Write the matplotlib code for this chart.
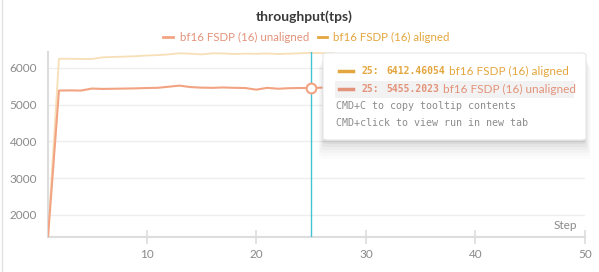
import matplotlib.pyplot as plt
from matplotlib.lines import Line2D
from matplotlib.patches import FancyBboxPatch

steps = list(range(1, 28))
aligned = [1450, 6250, 6250, 6245, 6245, 6290, 6300, 6310, 6320, 6340, 6350, 6370, 6400, 6390,
           6370, 6400, 6395, 6380, 6390, 6385, 6395, 6380, 6390, 6400, 6412.46054, 6405, 6400]
unaligned = [1400, 5385, 5390, 5385, 5440, 5430, 5435, 5440, 5445, 5455, 5460, 5490, 5520, 5480,
             5465, 5460, 5470, 5460, 5455, 5410, 5460, 5435, 5450, 5455, 5455.2023, 5465, 5460]
hover_step = 25
yticks = [2000, 3000, 4000, 5000, 6000]
xticks = [10, 20, 30, 40, 50]

W, H = 599, 272
SANS = ['Lato', 'DejaVu Sans']
MONO = ['DejaVu Sans Mono']
c_un = '#f2a382'
c_al = '#f7dfb8'
c_al_txt = '#e4a63e'
c_un_txt = '#e3937a'
grey = '#8a8a8a'

plt.rcParams['font.family'] = SANS

fig = plt.figure(figsize=(W / 100, H / 100), dpi=100)
ax = fig.add_axes([48 / W, 1 - 237 / H, (585 - 48) / W, (237 - 52) / H])


def px(x, y):
    return x / W, 1 - y / H


ax.plot(steps, aligned, color=c_al, lw=1.3, zorder=2)
ax.plot(steps, unaligned, color=c_un, lw=1.5, zorder=3)
ax.axvline(hover_step, color='#45c3d6', lw=1.0, zorder=4)
ax.plot([hover_step], [unaligned[steps.index(hover_step)]], marker='o', ms=7,
        mfc='white', mec=c_un, mew=1.5, zorder=5)

ax.set_xlim(1, 50)
ax.set_ylim(1400, 6435)
ax.set_xticks(xticks)
ax.set_yticks(yticks)
ax.grid(axis='y', color='#eeeeee', lw=1)
ax.set_axisbelow(True)
for s in ['top', 'right']:
    ax.spines[s].set_visible(False)
for s in ['left', 'bottom']:
    ax.spines[s].set_color('#dddddd')
    ax.spines[s].set_linewidth(1.5)
ax.tick_params(axis='x', direction='inout', length=10, width=1.2, color='#dddddd',
               labelcolor=grey, labelsize=8.5, pad=4)
ax.tick_params(axis='y', length=0, labelcolor=grey, labelsize=8.5, pad=8)
ax.text(0.985, 0.03, 'Step', transform=ax.transAxes, ha='right', va='bottom',
        color=grey, fontsize=8.5)

# panel border on the left
fig.add_artist(Line2D([2 / W, 2 / W], [0, 1], color='#e2e2e2', lw=1))

# title and legend
fig.text(*px(304, 17), 'throughput(tps)', ha='center', va='center',
         fontsize=10, fontweight='bold', color='#3a3a3a')
fig.add_artist(Line2D([163 / W, 173 / W], [1 - 37 / H] * 2, color=c_un, lw=2))
fig.text(*px(180, 37), 'bf16 FSDP (16) unaligned', ha='left', va='center',
         fontsize=8.3, color=c_un_txt)
fig.add_artist(Line2D([318 / W, 327 / W], [1 - 37 / H] * 2, color=c_al_txt, lw=2))
fig.text(*px(333, 37), 'bf16 FSDP (16) aligned', ha='left', va='center',
         fontsize=8.3, color=c_al_txt)

# tooltip
for i, a in enumerate([0.04, 0.03, 0.025, 0.02, 0.015, 0.01]):
    fig.add_artist(FancyBboxPatch(px(323 - i, 140 + 4 + i * 3), (263 + 2 * i) / W, (87 + i) / H,
                                  boxstyle='round,pad=0,rounding_size=0.008',
                                  transform=fig.transFigure, fc='black', ec='none',
                                  alpha=a, zorder=8))
fig.add_artist(FancyBboxPatch(px(323, 140), 263 / W, 87 / H,
                              boxstyle='round,pad=0,rounding_size=0.008',
                              transform=fig.transFigure, fc='white', ec='#e6e6e6',
                              lw=0.8, zorder=9))
fig.add_artist(FancyBboxPatch(px(335, 98), 239 / W, 17 / H, boxstyle='square,pad=0',
                              transform=fig.transFigure, fc='#f2f2f2', ec='none', zorder=10))

rows = [(71, c_al_txt, '6412.46054', 449, 'bf16 FSDP (16) aligned'),
        (89, c_un_txt, '5455.2023', 443, 'bf16 FSDP (16) unaligned')]
for y, c, val, xn, name in rows:
    fig.add_artist(Line2D([339 / W, 353 / W], [1 - y / H] * 2, color=c, lw=2.5, zorder=11))
    fig.text(*px(361, y), '25:', ha='left', va='center', fontsize=7, color=c,
             family=MONO, fontweight='bold', zorder=11)
    fig.text(*px(386, y), val, ha='left', va='center', fontsize=7, color=c,
             family=MONO, fontweight='bold', zorder=11)
    fig.text(*px(xn, y), name, ha='left', va='center', fontsize=8.5, color=c, zorder=11)

fig.text(*px(336, 106), 'CMD+C to copy tooltip contents', ha='left', va='center',
         fontsize=7.2, color='#8c8c8c', family=MONO, zorder=11)
fig.text(*px(336, 123), 'CMD+click to view run in new tab', ha='left', va='center',
         fontsize=7.2, color='#8c8c8c', family=MONO, zorder=11)

fig.savefig('out.png', dpi=100)
